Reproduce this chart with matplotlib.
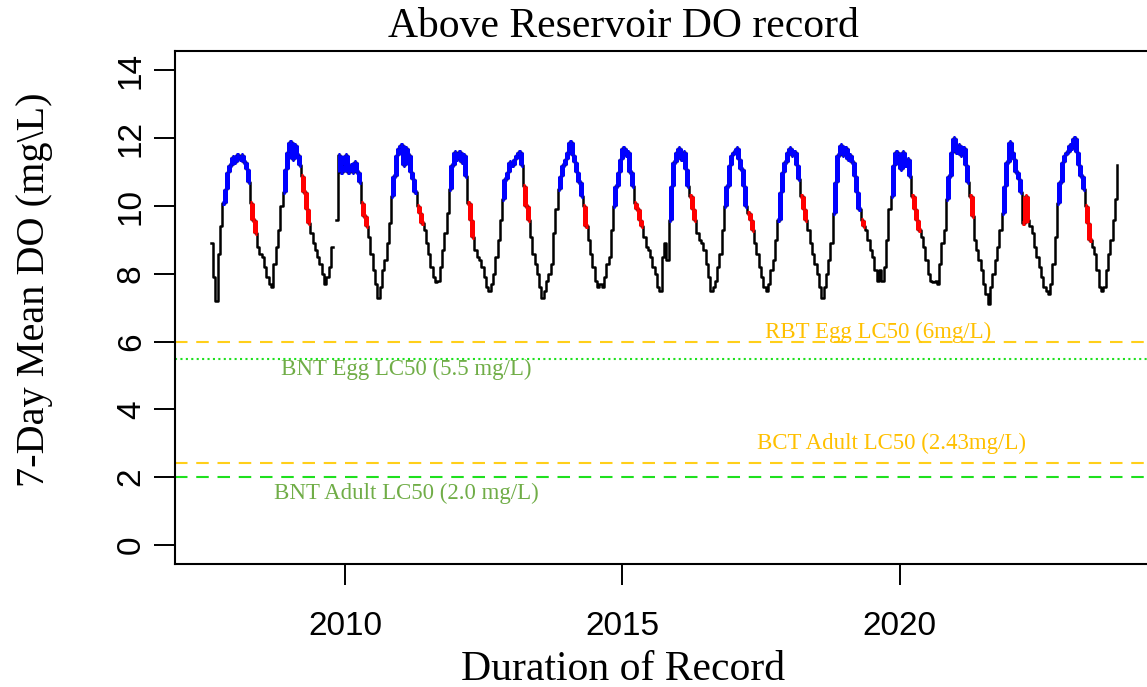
import numpy as np
import matplotlib
matplotlib.use('Agg')
import matplotlib.pyplot as plt
from matplotlib.collections import LineCollection

nan = np.nan

# 7-day mean DO, read every half month (k = 0 -> Jan 1, k = 1 -> Jan 16, ...)
first_k_2007 = 14
do_2007 = [8.9, 7.9, 7.2, 8.6, 9.4, 10.1, 10.5, 11.0, 11.2, 11.45]
do_2008 = [11.3, 11.5, 11.4, 11.5, 11.3, 11.1, 10.7, 10.1, 9.6, 9.2, 8.8, 8.6,
           8.5, 8.2, 7.9, 7.7, 7.6, 8.3, 8.8, 9.3, 10.0, 10.4, 11.1, 11.6]
do_2009 = [11.9, 11.4, 11.8, 11.5, 11.2, 10.9, 10.4, 9.9, 9.5, 9.2, 8.9, 8.7,
           8.5, 8.3, 8.0, 7.7, 7.9, 8.2, 8.8, nan, 9.6, 11.5, 11.0, 11.2]
do_2010 = [11.5, 11.0, 11.2, 11.0, 11.3, 11.0, 10.7, 10.1, 9.7, 9.4, 9.1, 8.6,
           8.1, 7.7, 7.3, 7.6, 8.1, 8.4, 8.9, 9.5, 10.3, 10.9, 11.5, 11.7]
do_2011 = [11.8, 11.2, 11.7, 11.5, 11.0, 10.8, 10.4, 10.0, 9.8, 9.5, 9.3, 8.9,
           8.6, 8.2, 7.9, 7.75, 7.8, 8.2, 8.7, 9.2, 9.8, 10.5, 11.2, 11.6]
do_2012 = [11.4, 11.6, 11.3, 11.5, 10.9, 10.1, 9.6, 9.1, 8.7, 8.5, 8.4, 8.2,
           7.9, 7.6, 7.5, 7.7, 8.0, 8.5, 9.0, 9.6, 10.2, 10.8, 11.0, 11.3]
do_2013 = [11.2, 11.4, 11.5, 11.6, 11.2, 10.6, 10.0, 9.6, 9.1, 8.6, 8.3, 8.0,
           7.6, 7.3, 7.5, 7.8, 8.0, 8.3, 9.2, 9.9, 10.5, 10.9, 11.2, 11.4]
do_2014 = [11.6, 11.9, 11.5, 11.3, 11.0, 10.7, 10.3, 10.0, 9.4, 9.0, 8.6, 8.2,
           7.8, 7.6, 7.7, 7.6, 7.9, 8.3, 8.5, 9.3, 10.0, 10.6, 11.0, 11.4]
do_2015 = [11.7, 11.5, 11.6, 11.0, 10.6, 10.1, 9.9, 9.6, 9.4, 9.1, 8.8, 8.7,
           8.5, 8.2, 8.0, 7.6, 7.5, 8.5, 8.9, 8.4, 9.6, 10.6, 11.3, 11.6]
do_2016 = [11.7, 11.4, 11.6, 11.1, 10.6, 10.3, 9.9, 9.6, 9.2, 9.0, 8.9, 8.7,
           8.3, 7.9, 7.5, 7.6, 7.8, 8.2, 8.6, 9.3, 10.0, 10.6, 11.2, 11.5]
do_2017 = [11.6, 11.7, 11.4, 11.1, 10.6, 10.0, 9.8, 9.6, 9.3, 8.9, 8.6, 8.2,
           7.9, 7.6, 7.5, 7.7, 8.1, 8.4, 9.0, 9.6, 10.4, 11.0, 11.3, 11.6]
do_2018 = [11.7, 11.5, 11.6, 11.2, 10.8, 10.3, 9.9, 9.6, 9.3, 8.9, 8.6, 8.3,
           8.0, 7.6, 7.3, 7.6, 8.0, 8.4, 8.9, 9.8, 10.7, 11.5, 11.8, 11.5]
do_2019 = [11.7, 11.4, 11.5, 11.3, 10.9, 10.4, 9.9, 9.6, 9.4, 9.3, 9.0, 8.7,
           8.5, 8.1, 7.8, 8.1, 7.8, 8.2, 9.0, 9.9, 10.3, 11.2, 11.6, 11.5]
do_2020 = [11.1, 11.6, 11.2, 11.4, 10.9, 10.3, 9.9, 9.6, 9.3, 9.1, 8.8, 8.4,
           8.0, 7.8, 7.75, 7.8, 7.7, 8.3, 8.9, 9.3, 10.2, 10.9, 11.6, 12.0]
do_2021 = [11.6, 11.8, 11.5, 11.7, 11.2, 10.7, 10.3, 9.7, 9.0, 8.7, 8.4, 8.1,
           7.7, 7.4, 7.1, 7.6, 8.0, 8.4, 8.8, 9.3, 9.8, 10.6, 11.3, 11.9]
do_2022 = [11.6, 11.4, 11.0, 10.8, 10.4, 9.5, 10.3, 9.6, 9.4, 9.2, 8.8, 8.5,
           8.2, 7.9, 7.6, 7.5, 7.4, 7.7, 8.3, 9.1, 10.1, 10.7, 11.3, 11.5]
do_2023 = [11.6, 11.8, 11.7, 12.0, 11.6, 11.2, 10.9, 10.5, 10.0, 9.5, 9.0, 8.8,
           8.6, 8.1, 7.6, 7.5, 7.6, 8.1, 8.6, 9.0, 9.6, 10.2, 11.2]

years = list(range(2007, 2024))
# half-month index where the blue (winter) points start / stop and red stops
blue_on = [19, 21, 21, 20, 21, 20, 20, 20, 20, 20, 19, 19, 20, 20, 20, 20, 24]
blue_off = [0, 7, 5, 7, 7, 5, 5, 7, 5, 5, 6, 5, 7, 5, 6, 5, 8]
red_off = [0, 10, 9, 10, 10, 8, 8, 9, 9, 8, 9, 8, 9, 9, 8, 8, 11]

thresholds = [6.0, 5.5, 2.43, 2.0]
threshold_labels = ['RBT Egg LC50 (6mg/L)', 'BNT Egg LC50 (5.5 mg/L)',
                    'BCT Adult LC50 (2.43mg/L)', 'BNT Adult LC50 (2.0 mg/L)']
label_pos = [(2019.60, 6.27), (2011.10, 5.17), (2019.85, 2.99), (2011.10, 1.51)]

#%% assemble series
series = [do_2007, do_2008, do_2009, do_2010, do_2011, do_2012, do_2013, do_2014,
          do_2015, do_2016, do_2017, do_2018, do_2019, do_2020, do_2021, do_2022, do_2023]
t, v, col = [], [], []
for i_y, (yr, vals) in enumerate(zip(years, series)):
    k0 = first_k_2007 if yr == 2007 else 0
    for j, val in enumerate(vals):
        k = k0 + j
        t.append(yr + k / 24.)
        v.append(val)
        if k >= blue_on[i_y] or k < blue_off[i_y]:
            col.append('blue')
        elif k < red_off[i_y]:
            col.append('red')
        else:
            col.append('black')
t = np.array(t)
v = np.array(v, dtype=float)

segs, seg_cols = [], []
for i in range(len(t) - 1):
    if col[i] == 'black' or np.isnan(v[i]):
        continue
    if not np.isnan(v[i + 1]):
        segs.append([(t[i], v[i]), (t[i + 1], v[i])])
        seg_cols.append(col[i])
    if i > 0 and col[i - 1] == col[i] and not np.isnan(v[i - 1]):
        segs.append([(t[i], v[i - 1]), (t[i], v[i])])
        seg_cols.append(col[i])

#%% plot
serif = ['Liberation Serif', 'DejaVu Serif']
sans = ['Liberation Sans', 'DejaVu Sans']

fig = plt.figure(figsize=(11.47, 6.87), dpi=100)
ax = fig.add_axes([0.1522, 0.1790, 0.8539, 0.7461])

ax.plot(t, v, color='black', lw=1.8, drawstyle='steps-post', zorder=3)
ax.add_collection(LineCollection(segs, colors=seg_cols, linewidths=3.6,
                                 capstyle='butt', zorder=4))

line_cols = ['#FFCF1A', '#1EE01E', '#FFCF1A', '#1EE01E']
line_dash = [(6, 4.2), (1, 1.6), (6, 4.2), (6, 4.2)]
text_cols = ['#FFC000', '#70AD47', '#FFC000', '#70AD47']
for i in range(len(thresholds)):
    ax.axhline(thresholds[i], color=line_cols[i], lw=1.5, dashes=line_dash[i], zorder=2)
    ax.text(label_pos[i][0], label_pos[i][1], threshold_labels[i], color=text_cols[i],
            ha='center', va='center', fontsize=16.5, family=serif, zorder=5)

ax.set_xlim(2006.93, 2024.58)
ax.set_ylim(-0.56, 14.56)
ax.set_xticks([2010, 2015, 2020])
ax.set_yticks(np.arange(0, 15, 2))
ax.tick_params(length=15, width=1.4, labelsize=24)
ax.tick_params(axis='x', pad=19)
ax.tick_params(axis='y', labelrotation=90, pad=5)
for lab in ax.get_xticklabels() + ax.get_yticklabels():
    lab.set_family(sans)
for lab in ax.get_yticklabels():
    lab.set_va('center')
for s in ax.spines.values():
    s.set_linewidth(1.5)

fig.text(623 / 1147., 1 - 37 / 687., 'Above Reservoir DO record', ha='center',
         va='baseline', fontsize=30, family=serif)
fig.text(623 / 1147., 1 - 680 / 687., 'Duration of Record', ha='center',
         va='baseline', fontsize=30, family=serif)
fig.text(35 / 1147., 1 - 290 / 687., '7-Day Mean DO (mg\\L)', ha='center',
         va='center', rotation=90, fontsize=29, family=serif)

fig.savefig('out.png', dpi=100)
